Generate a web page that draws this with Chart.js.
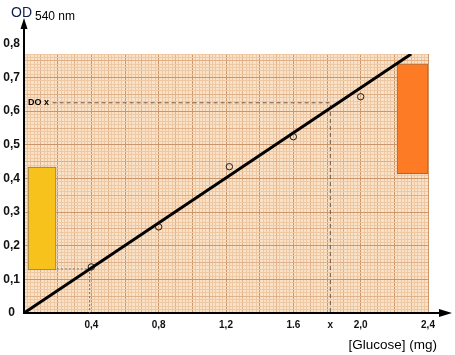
<!DOCTYPE html>
<html><head><meta charset="utf-8">
<script src="https://cdn.jsdelivr.net/npm/chart.js@4/dist/chart.umd.min.js"></script>
<style>html,body{margin:0;padding:0;background:#fff}#wrap{width:455px;height:355px}</style>
</head><body><div id="wrap"><canvas id="c" width="455" height="355"></canvas></div>
<script>
// ---- data ----
const standardsX = [0.4, 0.8, 1.22, 1.6, 2.0];
const standardsOD = [0.137, 0.256, 0.435, 0.524, 0.643];
const fitX = [0, 2.3];
const fitOD = [0, 0.77];
const sampleOD = 0.625;          // DO x
const sampleX = 1.82;            // x
const sampleLineStartX = 0.17;
const refX = 0.39;               // dotted guide at 0,4
const refOD = 0.131;
const refStartX = 0.195;
const yellowBoxX = [0.107];
const yellowBoxOD = [0.128, 0.434];
const orangeBoxX = [2.308];
const orangeBoxOD = [0.414, 0.741];
const paperX = [0, 2.4];
const paperTop = 0.77;
const xTickValues = [0.4, 0.8, 1.2, 1.6, 2.0, 2.4];
const xTickLabels = ['0,4', '0,8', '1,2', '1.6', '2,0', '2,4'];
const yTickValues = [0, 0.1, 0.2, 0.3, 0.4, 0.5, 0.6, 0.7, 0.8];
const yTickLabels = ['0', '0,1', '0,2', '0,3', '0,4', '0,5', '0,6', '0,7', '0,8'];

const FONT = "'Liberation Sans', Arial, sans-serif";
const X_MINOR = 0.02, Y_MINOR = 0.01;

// grid tick positions (graph paper)
const xGrid = [];
for (let i = 0; i <= Math.round(paperX[1] / X_MINOR); i++) xGrid.push(+(i * X_MINOR).toFixed(4));
const yGrid = [];
for (let i = 0; i <= Math.round(paperTop / Y_MINOR); i++) yGrid.push(+(i * Y_MINOR).toFixed(4));
yGrid.push(0.8);

function lookup(vals, labels, v) {
  const k = vals.findIndex(t => Math.abs(t - v) < 1e-6);
  return k < 0 ? '' : labels[k];
}
const xAllVals = xTickValues.concat([sampleX]);
const xAllLabels = xTickLabels.concat(['x']);

const PAPER = '#F9E2C8', MINOR = '#EDC8A2', MEDIUM = '#E0B088', MAJOR = '#CB966A';
function gridColor(v, step, medEvery, majEvery, limit) {
  if (v > limit + 1e-6) return 'rgba(0,0,0,0)';
  const i = Math.round(v / step);
  if (i % majEvery === 0) return MAJOR;
  if (i % medEvery === 0) return MEDIUM;
  return MINOR;
}

const decor = {
  id: 'decor',
  afterDraw(chart) {
    const {ctx, chartArea: a, scales: {x, y}} = chart;
    const x0 = x.getPixelForValue(0), y0 = y.getPixelForValue(0);
    ctx.save();
    ctx.strokeStyle = '#000'; ctx.fillStyle = '#000'; ctx.lineWidth = 2;
    ctx.beginPath(); ctx.moveTo(x0, a.top); ctx.lineTo(x0, 26); ctx.stroke();
    ctx.beginPath(); ctx.moveTo(x0, 18); ctx.lineTo(x0 - 3.5, 29); ctx.lineTo(x0 + 3.5, 29); ctx.closePath(); ctx.fill();
    ctx.beginPath(); ctx.moveTo(a.right, y0); ctx.lineTo(441, y0); ctx.stroke();
    ctx.beginPath(); ctx.moveTo(452, y0); ctx.lineTo(439, y0 - 4); ctx.lineTo(439, y0 + 4); ctx.closePath(); ctx.fill();
    ctx.textBaseline = 'alphabetic';
    ctx.textAlign = 'left';
    ctx.fillStyle = '#0d1f48';
    ctx.font = '14px ' + FONT; ctx.fillText('OD', 11, 17);
    ctx.fillStyle = '#000';
    ctx.font = '12px ' + FONT; ctx.fillText('540 nm', 35, 20);
    ctx.textAlign = 'right';
    ctx.font = '13.5px ' + FONT; ctx.fillText('[Glucose] (mg)', 437, 349);
    ctx.textAlign = 'left'; ctx.textBaseline = 'middle';
    ctx.font = 'bold 9px ' + FONT;
    ctx.fillText('DO x', x0 + 4, y.getPixelForValue(sampleOD));
    ctx.restore();
  }
};

new Chart(document.getElementById('c'), {
  type: 'scatter',
  data: {
    datasets: [
      { type: 'line', label: 'fit', order: 0,
        data: fitX.map((v, i) => ({x: v, y: fitOD[i]})),
        borderColor: '#000', borderWidth: 3, pointRadius: 0, fill: false },
      { type: 'scatter', label: 'standards', order: 1,
        data: standardsX.map((v, i) => ({x: v, y: standardsOD[i]})),
        pointStyle: 'circle', pointRadius: 3.2, borderColor: '#222', borderWidth: 1, backgroundColor: 'rgba(0,0,0,0)' },
      { type: 'line', label: 'DOx', order: 2,
        data: [{x: sampleLineStartX, y: sampleOD}, {x: sampleX, y: sampleOD}, {x: sampleX, y: 0}],
        borderColor: '#6b5a50', borderWidth: 1, borderDash: [4, 3], pointRadius: 0, fill: false },
      { type: 'line', label: 'ref', order: 3,
        data: [{x: refStartX, y: refOD}, {x: refX, y: refOD}, {x: refX, y: 0}],
        borderColor: '#7a6a60', borderWidth: 1, borderDash: [2, 2], pointRadius: 0, fill: false },
      { type: 'bar', label: 'yellow', order: 4, grouped: false,
        data: [{x: yellowBoxX[0], y: yellowBoxOD}],
        backgroundColor: '#F7C21B', borderColor: '#8c7d58', borderWidth: 1, borderSkipped: false, barThickness: 28 },
      { type: 'bar', label: 'orange', order: 5, grouped: false,
        data: [{x: orangeBoxX[0], y: orangeBoxOD}],
        backgroundColor: '#FD7B25', borderColor: '#a06a48', borderWidth: 1, borderSkipped: false, barThickness: 31 },
      { type: 'line', label: 'paper', order: 6,
        data: paperX.map(v => ({x: v, y: paperTop})),
        borderWidth: 0, pointRadius: 0, backgroundColor: PAPER, fill: 'origin' }
    ]
  },
  options: {
    responsive: false, animation: false, devicePixelRatio: 1,
    layout: {padding: {left: 0, right: 27, top: 54, bottom: 0}},
    plugins: {legend: {display: false}, tooltip: {enabled: false}, filler: {drawTime: 'beforeDraw'}},
    scales: {
      x: {
        type: 'linear', min: 0, max: 2.4, offset: false,
        afterBuildTicks(s) { s.ticks = xGrid.map(v => ({value: v})); },
        afterFit(s) { s.height = 42; },
        ticks: {autoSkip: false, maxRotation: 0, minRotation: 0, padding: 6, color: '#111',
          font: {size: 10, weight: 'bold', family: FONT},
          callback: v => lookup(xAllVals, xAllLabels, v)},
        grid: {offset: false, drawTicks: false, lineWidth: 1,
          color: c => gridColor(c.tick.value, X_MINOR, 5, 10, 2.4)},
        border: {display: true, color: '#000', width: 2}
      },
      y: {
        type: 'linear', min: 0, max: paperTop,
        afterBuildTicks(s) { s.ticks = yGrid.map(v => ({value: v})); },
        afterFit(s) { s.width = 24; },
        ticks: {autoSkip: false, padding: 4, crossAlign: 'center', color: '#111',
          font: {size: 12, weight: 'bold', family: FONT},
          callback: v => lookup(yTickValues, yTickLabels, v)},
        grid: {drawTicks: false, lineWidth: 1,
          color: c => gridColor(c.tick.value, Y_MINOR, 5, 10, paperTop)},
        border: {display: true, color: '#000', width: 2}
      }
    }
  },
  plugins: [decor]
});
</script>
</body></html>
